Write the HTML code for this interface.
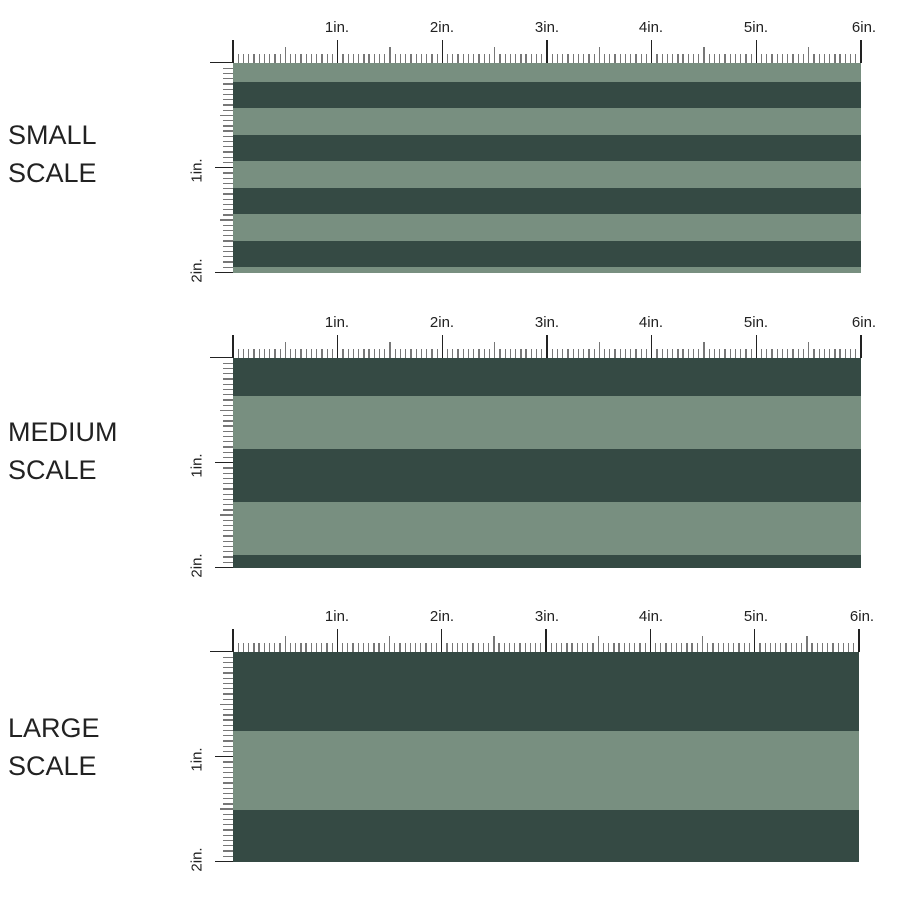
<!DOCTYPE html><html><head><style>
body{margin:0;width:900px;height:900px;background:#fff;position:relative;overflow:hidden;font-family:"Liberation Sans",sans-serif}
.a{position:absolute}
.lab{position:absolute;left:8px;font-size:27px;line-height:38px;color:#222}
.num{position:absolute;font-size:15px;color:#222;transform:translateX(-50%)}
.vnum{position:absolute;font-size:15px;color:#222;transform:rotate(-90deg);transform-origin:center}
</style></head><body>
<div id="root"></div>
<div class="lab" style="top:116px">SMALL<br>SCALE</div>
<div class="lab" style="top:413px">MEDIUM<br>SCALE</div>
<div class="lab" style="top:709px">LARGE<br>SCALE</div>
<div class="num" style="left:337px;top:19px">1in.</div><div class="num" style="left:442px;top:19px">2in.</div><div class="num" style="left:547px;top:19px">3in.</div><div class="num" style="left:651px;top:19px">4in.</div><div class="num" style="left:756px;top:19px">5in.</div><div class="num" style="left:864px;top:19px">6in.</div>
<div class="num" style="left:337px;top:314px">1in.</div><div class="num" style="left:442px;top:314px">2in.</div><div class="num" style="left:547px;top:314px">3in.</div><div class="num" style="left:651px;top:314px">4in.</div><div class="num" style="left:756px;top:314px">5in.</div><div class="num" style="left:864px;top:314px">6in.</div>
<div class="num" style="left:337px;top:608px">1in.</div><div class="num" style="left:442px;top:608px">2in.</div><div class="num" style="left:547px;top:608px">3in.</div><div class="num" style="left:651px;top:608px">4in.</div><div class="num" style="left:756px;top:608px">5in.</div><div class="num" style="left:862px;top:608px">6in.</div>
<div class="vnum" style="left:185px;top:162px">1in.</div><div class="vnum" style="left:185px;top:262px">2in.</div>
<div class="vnum" style="left:185px;top:457px">1in.</div><div class="vnum" style="left:185px;top:557px">2in.</div>
<div class="vnum" style="left:185px;top:751px">1in.</div><div class="vnum" style="left:185px;top:851px">2in.</div>
<script>
var L='#788f80',D='#354a44',h='';
function panel(T,W,stripes){
 var x0=233,inch=W/6,vin=104.7;
 stripes.forEach(function(s){h+='<div class="a" style="left:'+x0+'px;top:'+(T+s[0])+'px;width:'+W+'px;height:'+(s[1]-s[0])+'px;background:'+s[2]+'"></div>';});
 for(var i=0;i<=120;i++){var x=x0+i*inch/20;var len=(i%20==0)?23:(i%10==0)?16:9;var c=(i%20==0)?'#222':'#777';
  h+='<div class="a" style="left:'+(x-0.6).toFixed(2)+'px;top:'+(T-len)+'px;width:1.3px;height:'+len+'px;background:'+c+'"></div>';}
 h+='<div class="a" style="left:210px;top:'+(T-1)+'px;width:23px;height:1.3px;background:#222"></div>';
 for(var j=1;j<=40;j++){var y=T+j*vin/20;var len2=(j%20==0)?18:(j%10==0)?13:10;var c2=(j%20==0)?'#222':'#777';
  h+='<div class="a" style="left:'+(x0-len2)+'px;top:'+(y-0.6).toFixed(2)+'px;width:'+len2+'px;height:1.3px;background:'+c2+'"></div>';}
}
panel(63,628,[[0,19,L],[19,45,D],[45,72,L],[72,98,D],[98,125,L],[125,151,D],[151,178,L],[178,204,D],[204,210,L]]);
panel(358,628,[[0,38,D],[38,91,L],[91,144,D],[144,197,L],[197,210,D]]);
panel(652,626,[[0,79,D],[79,158,L],[158,210,D]]);
document.getElementById('root').innerHTML=h;
</script>
</body></html>
